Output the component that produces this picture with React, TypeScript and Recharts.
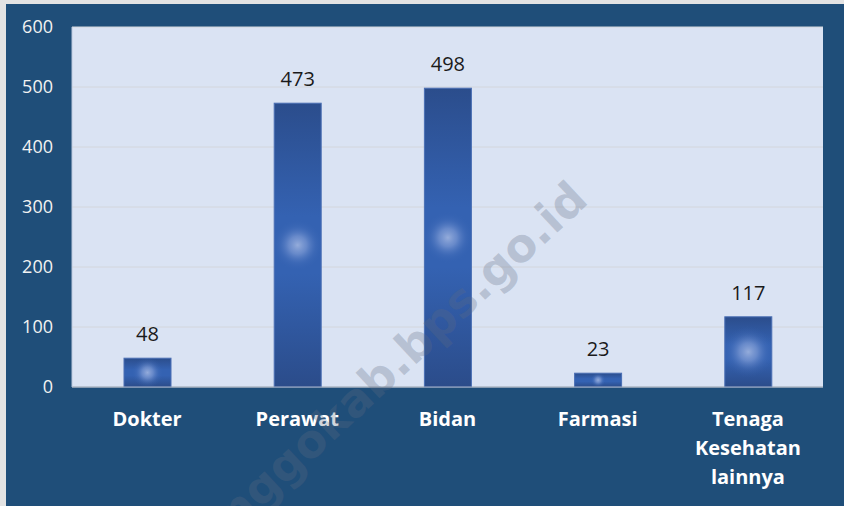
import { BarChart, Bar, XAxis, YAxis, CartesianGrid, LabelList } from 'recharts';

const categories = ['Dokter', 'Perawat', 'Bidan', 'Farmasi', 'Tenaga Kesehatan lainnya'];
const counts = [48, 473, 498, 23, 117];
const yTicks = [0, 100, 200, 300, 400, 500, 600];
const watermark = 'nggokab.bps.go.id';

const data = categories.map((name, i) => ({ name, value: counts[i] }));

const FONT = '"Open Sans", "Noto Sans", sans-serif';

// office-style bar: dark edges, lighter middle, soft glow in the centre
const GlowBar = (props: any) => {
  const { x, y, width, height } = props;
  if (!height || height <= 0) return null;
  const r = Math.min(width / 2, height / 2) * 1.1;
  return (
    <g>
      <rect x={x} y={y} width={width} height={height} fill="url(#barBody)" stroke="#4a6fb4" strokeWidth={1} />
      <clipPath id={`clip-${Math.round(x)}`}>
        <rect x={x} y={y} width={width} height={height} />
      </clipPath>
      <circle cx={x + width / 2} cy={y + height / 2} r={r} fill="url(#barGlow)" clipPath={`url(#clip-${Math.round(x)})`} />
    </g>
  );
};

const CategoryTick = (props: any) => {
  const { x, y, payload } = props;
  const value: string = payload.value;
  const lines = value.length > 12 ? value.split(' ') : [value];
  return (
    <text x={x} y={y} textAnchor="middle" fill="#ffffff" fontSize={20} fontWeight={700} fontFamily={FONT}>
      {lines.map((l, i) => (
        <tspan key={i} x={x} dy={i === 0 ? '0.71em' : 29}>
          {l}
        </tspan>
      ))}
    </text>
  );
};

export default function App() {
  return (
    <div style={{ position: 'absolute', left: 0, top: 0, width: 844, height: 506, background: '#e3e3e3', overflow: 'hidden' }}>
      <div style={{ position: 'absolute', left: 6, top: 4, width: 838, height: 502, background: '#1f4e79' }}>
        <BarChart width={838} height={502} data={data} margin={{ top: 23, right: 21, left: 0, bottom: 0 }} barSize={47}>
          <defs>
            <linearGradient id="barBody" x1="0" y1="0" x2="0" y2="1">
              <stop offset="0%" stopColor="#2b4d8c" />
              <stop offset="40%" stopColor="#3462b2" />
              <stop offset="60%" stopColor="#3462b2" />
              <stop offset="100%" stopColor="#2b4c8a" />
            </linearGradient>
            <radialGradient id="barGlow" cx="50%" cy="50%" r="50%">
              <stop offset="0%" stopColor="#9fb4df" stopOpacity={0.9} />
              <stop offset="35%" stopColor="#8aa4da" stopOpacity={0.6} />
              <stop offset="70%" stopColor="#5b80c6" stopOpacity={0.2} />
              <stop offset="100%" stopColor="#3462b2" stopOpacity={0} />
            </radialGradient>
          </defs>
          <CartesianGrid vertical={false} stroke="#d3d6dc" fill="#dae3f3" />
          <XAxis
            dataKey="name"
            height={119}
            tickLine={false}
            tickSize={0}
            tickMargin={25}
            axisLine={{ stroke: '#9aa6b8' }}
            tick={<CategoryTick />}
            interval={0}
          />
          <YAxis
            domain={[0, 600]}
            ticks={yTicks}
            width={66}
            tickLine={false}
            tickSize={0}
            tickMargin={19}
            axisLine={{ stroke: '#b9c7dd' }}
            tick={{ fill: '#f2f2f2', fontSize: 18, fontFamily: FONT }}
          />
          <Bar dataKey="value" shape={<GlowBar />} isAnimationActive={false}>
            <LabelList dataKey="value" position="top" offset={17} fill="#1a1a1a" fontSize={20} fontFamily={FONT} />
          </Bar>
        </BarChart>
      </div>
      <svg width={844} height={506} style={{ position: 'absolute', left: 0, top: 0, pointerEvents: 'none' }}>
        <text
          x={590}
          y={202}
          transform="rotate(-43 590 202)"
          textAnchor="end"
          fontSize={46}
          fontWeight={700}
          fontFamily='"DejaVu Sans", sans-serif'
          fill="#5f6b82"
          fillOpacity={0.28}
        >
          {watermark}
        </text>
      </svg>
    </div>
  );
}
